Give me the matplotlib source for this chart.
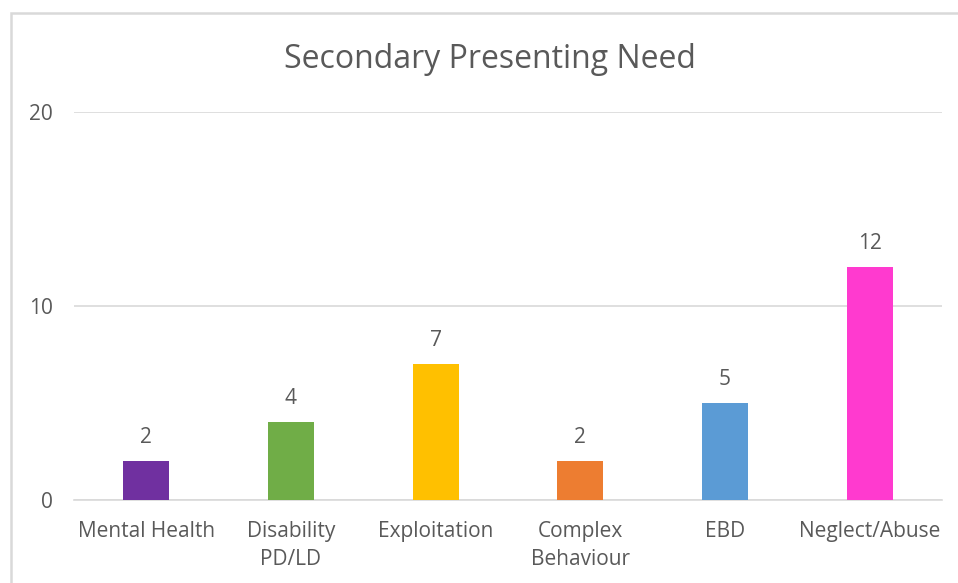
import matplotlib
matplotlib.use("Agg")
from matplotlib import pyplot as plt
from matplotlib.patches import Rectangle

categories = ["Mental Health", "Disability\nPD/LD", "Exploitation",
              "Complex\nBehaviour", "EBD", "Neglect/Abuse"]
values = [2, 4, 7, 2, 5, 12]
colors = ["#7030A0", "#70AD47", "#FFC000", "#ED7D31", "#5B9BD5", "#FF3ACF"]
y_ticks = [0, 10, 20]

plt.rcParams["font.family"] = ["Open Sans", "DejaVu Sans"]
text_grey = "#595959"
grid_grey = "#D9D9D9"

fig = plt.figure(figsize=(9.58, 5.83), dpi=100)

# chart frame (runs off the right and bottom edges like the screenshot)
frame_top = 1 - 13 / 583
frame = Rectangle((11 / 958, -0.2), 1.2, frame_top + 0.2,
                  transform=fig.transFigure, fill=False,
                  edgecolor=grid_grey, linewidth=1.8)
fig.patches.append(frame)

ax = fig.add_axes([74 / 958, 1 - 500 / 583, 868 / 958, 388 / 583])
x = range(len(categories))
bars = ax.bar(x, values, width=0.32, color=colors, zorder=3)

for rect, v in zip(bars, values):
    ax.annotate(str(v), (rect.get_x() + rect.get_width() / 2, v),
                xytext=(0, 17), textcoords="offset points",
                ha="center", va="center", fontsize=15, color=text_grey)

ax.set_xlim(-0.5, len(categories) - 0.5)
ax.set_ylim(0, 20)
ax.set_yticks(y_ticks)
ax.set_xticks(list(x))
ax.set_xticklabels(categories, linespacing=1.45)
ax.yaxis.grid(True, color=grid_grey, linewidth=1.2, zorder=0)
for s in ["top", "right", "left"]:
    ax.spines[s].set_visible(False)
ax.spines["bottom"].set_color(grid_grey)
ax.spines["bottom"].set_linewidth(1.2)
ax.tick_params(axis="both", length=0, labelsize=15, labelcolor=text_grey)
ax.tick_params(axis="y", pad=15)
ax.tick_params(axis="x", pad=15)

fig.text(490 / 958, 1 - 59 / 583, "Secondary Presenting Need",
         ha="center", va="center", fontsize=23, color=text_grey)

fig.savefig("out.png", dpi=100)
